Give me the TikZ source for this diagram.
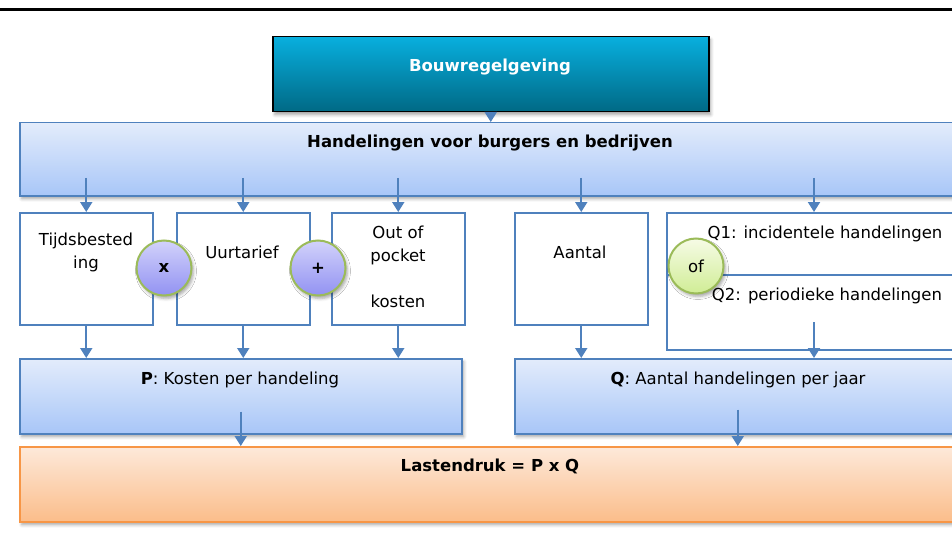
\documentclass[tikz,border=0pt]{standalone}
\usepackage{fontspec}
\setmainfont{DejaVu Sans}
\usetikzlibrary{arrows.meta}
\usetikzlibrary{shadows, shadows.blur}
\usetikzlibrary{calc}

\definecolor{randblauw}{HTML}{4F81BD}
\definecolor{vlakboven}{HTML}{E3ECFB}
\definecolor{vlakonder}{HTML}{A8C6F8}
\definecolor{bouwboven}{HTML}{08AFDE}
\definecolor{bouwonder}{HTML}{006985}
\definecolor{oranjerand}{HTML}{F79646}
\definecolor{oranjeboven}{HTML}{FDE9DA}
\definecolor{oranjeonder}{HTML}{FBBD8A}
\definecolor{groenrand}{HTML}{9BBB59}
\definecolor{paarsboven}{HTML}{D2D2FB}
\definecolor{paarsonder}{HTML}{9292F2}
\definecolor{groenboven}{HTML}{F6FBE6}
\definecolor{groenonder}{HTML}{D0ED95}

\tikzset{
  every node/.style={font=\fontsize{16.5}{23}\selectfont},
  schaduw/.style={blur shadow={shadow xshift=2pt, shadow yshift=-3pt,
      shadow blur radius=3pt, shadow opacity=35}},
  kader/.style={rectangle, draw=randblauw, line width=1.5pt, fill=white,
      inner sep=0pt, anchor=north west},
  blauwvlak/.style={kader, top color=vlakboven, bottom color=vlakonder,
      schaduw},
  bouwvlak/.style={kader, draw=black, top color=bouwboven,
      bottom color=bouwonder, schaduw},
  oranjevlak/.style={kader, draw=oranjerand, top color=oranjeboven,
      bottom color=oranjeonder, schaduw},
  bol/.style={circle, draw=groenrand, line width=2pt, minimum size=55pt,
      inner sep=0pt, schaduw},
  tekst/.style={align=center, inner sep=0pt},
  pijl/.style={->, draw=randblauw, line width=2pt}
}

\begin{document}
\begin{tikzpicture}[x=1pt, y=-1pt, >={Triangle[width=12pt,length=10pt]}]
    \useasboundingbox (0,0) rectangle (952,548);
    \clip (0,0) rectangle (952,548);
    \draw[line width=3pt] (0,10) -- (952,10);

    % vakken
    \node[bouwvlak, minimum width=436pt, minimum height=75pt] (bouw)
        at (272,36) {};
    \node[blauwvlak, minimum width=942pt, minimum height=73pt] (hand)
        at (19,122) {};
    \node[kader, minimum width=133pt, minimum height=112pt] (tijd)
        at (19,212) {};
    \node[kader, minimum width=133pt, minimum height=112pt] (uur)
        at (176,212) {};
    \node[kader, minimum width=133pt, minimum height=112pt] (oop)
        at (331,212) {};
    \node[kader, minimum width=133pt, minimum height=112pt] (aantal)
        at (514,212) {};
    \node[kader, minimum width=320pt, minimum height=137pt] (qbox)
        at (666,212) {};
    \coordinate (deel) at ($(qbox.north west)+(0,63)$);
    \draw[draw=randblauw, line width=1.5pt] (deel) -- (deel -| qbox.east);
    \node[blauwvlak, minimum width=442pt, minimum height=75pt] (P)
        at (19,358) {};
    \node[blauwvlak, minimum width=446pt, minimum height=75pt] (Q)
        at (514,358) {};
    \node[oranjevlak, minimum width=942pt, minimum height=75pt] (last)
        at (19,446) {};

    % pijlen
    \draw[pijl] (bouw) -- (hand);
    \foreach \doel in {tijd, uur, oop, aantal}
        \draw[pijl] ($(\doel.north)+(0,-34)$) -- (\doel.north);
    \draw[pijl] ($(qbox.north west)+(148,-34)$) -- ($(qbox.north west)+(148,0)$);
    \foreach \bron in {tijd, uur, oop, aantal}
        \draw[pijl] (\bron.south) -- (\bron.south |- P.north);
    \draw[pijl] ($(Q.north west)+(300,-36)$) -- ($(Q.north west)+(300,0)$);
    \draw[pijl] ($(P.south)+(0,-23)$) -- (P.south |- last.north);
    \draw[pijl] ($(Q.south)+(0,-25)$) -- (Q.south |- last.north);

    % bollen
    \node[bol, top color=paarsboven, bottom color=paarsonder] (maal)
        at (164,268) {\bfseries x};
    \node[bol, top color=paarsboven, bottom color=paarsonder] (plus)
        at (318,268) {\bfseries +};
    \node[bol, top color=groenboven, bottom color=groenonder] (of)
        at (696,266) {of};

    % teksten
    \node[tekst, text=white] (bouw-t) at (490,67) {\bfseries Bouwregelgeving};
    \node[tekst] (hand-t) at (490,143)
        {\bfseries Handelingen voor burgers en bedrijven};
    \node[tekst] (tijd-t) at (86,252) {Tijdsbested\\ing};
    \node[tekst] (uur-t) at (242,252) {Uurtarief};
    \node[tekst] (oop-t) at (398,267) {Out of\\pocket\\[23pt]kosten};
    \node[tekst] (aantal-t) at (580,252) {Aantal};
    \node[tekst] (q1-t) at (825,234) {Q1: incidentele handelingen};
    \node[tekst] (q2-t) at (827,296) {Q2: periodieke handelingen};
    \node[tekst] (P-t) at (240,380) {\textbf{P}: Kosten per handeling};
    \node[tekst] (Q-t) at (738,380) {\textbf{Q}: Aantal handelingen per jaar};
    \node[tekst] (last-t) at (490,466) {\bfseries Lastendruk = P x Q};
\end{tikzpicture}
\end{document}
